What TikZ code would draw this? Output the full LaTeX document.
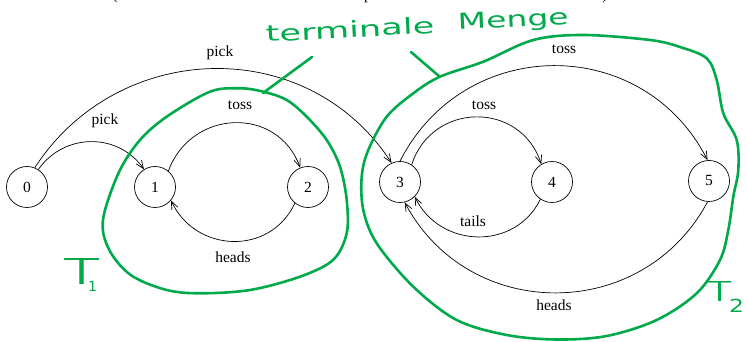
\documentclass[tikz,border=0pt]{standalone}
\usepackage{fontspec}
\usepackage{graphicx}
\setmainfont{Liberation Serif}
\newfontfamily\handfont{DejaVu Sans}
\IfFontExistsTF{Fira Sans Light}{\newfontfamily\thinfont{Fira Sans Light}}{\newfontfamily\thinfont{DejaVu Sans}}
\usetikzlibrary{arrows.meta}
\definecolor{pen}{RGB}{0,170,75}
\begin{document}
\begin{tikzpicture}[x=1pt,y=1pt,
  state/.style={draw, circle, minimum size=41pt, inner sep=0pt, line width=0.7pt, font=\fontsize{15.5}{18}\selectfont},
  lab/.style={font=\fontsize{15.5}{18}\selectfont, inner sep=0pt},
  conn/.style={draw, line width=0.7pt, -{Straight Barb[length=8pt,width=6.5pt]}},
  ink/.style={draw=pen, line width=2.6pt, line cap=round, line join=round},
  hand/.style={text=pen, inner sep=0pt, anchor=base west}]
\useasboundingbox (0,0) rectangle (747,342);
\clip (0,0) rectangle (747,342);

% cut-off text line at the top
\node[lab, anchor=base] (cutA) at (115,342.5) {(};
\node[lab, anchor=base] (cutB) at (368,342.5) {p};
\node[lab, anchor=base] (cutC) at (605,342.5) {)};

% states
\node[state] (n0) at (27,155) {0};
\node[state] (n1) at (155,155) {1};
\node[state] (n2) at (308,155) {2};
\node[state] (n3) at (400,160) {3};
\node[state] (n4) at (552,160) {4};
\node[state] (n5) at (709,161) {5};

% transitions
\draw[conn] (n0.57) to[out=55,in=125,looseness=1.09] (n1.122);
\draw[conn] (n0.68) to[out=57,in=123,looseness=1.1] (n3.114);
\draw[conn] (n1.50) to[out=70,in=110,looseness=1.28] (n2.112);
\draw[conn] (n2.231) to[out=-115,in=-65,looseness=1.2] (n1.-40);
\draw[conn] (n3.56) to[out=72,in=108,looseness=1.31] (n4.121);
\draw[conn] (n4.236) to[out=-116,in=-64,looseness=1.17] (n3.-45);
\draw[conn] (n3.90) to[out=63,in=117,looseness=1.18] (n5.94);
\draw[conn] (n5.-94) to[out=-118,in=-62,looseness=1.16] (n3.-77);

% labels
\node[lab] (lpick1) at (105,221) {pick};
\node[lab] (lpick2) at (220,289) {pick};
\node[lab] (ltoss1) at (240,237) {toss};
\node[lab] (lheads1) at (233,85) {heads};
\node[lab] (ltoss2) at (484,237) {toss};
\node[lab] (ltails) at (473,121) {tails};
\node[lab] (ltoss3) at (564,293) {toss};
\node[lab] (lheads2) at (554,37) {heads};

% handwritten annotations
\draw[ink] plot[smooth cycle, tension=0.55] coordinates {
  (240,253.7) (210,250.3) (166.7,225.3) (140,202) (120,172) (105,132)
  (103.3,108.7) (113.3,85.3) (133.3,65.3) (166.7,52) (200,48.7) (250,52)
  (300,65.3) (333,82) (346.7,108.7) (346.7,142) (340,175.3) (326.7,202)
  (306.7,225.3) (286.7,242) (263.3,250.3)};
\draw[ink] plot[smooth cycle, tension=0.55] coordinates {
  (440,265.3) (483.3,280.3) (533.3,302) (583.3,307) (650,302) (680,295)
  (706.7,283.7) (716.7,262) (723.3,228.7) (736.7,202) (738.3,172)
  (733.3,145.3) (728.3,112) (720,82) (696.7,48.7) (656.7,22) (606.7,6)
  (556.7,2.5) (506.7,7) (456.7,22) (413.3,55.3) (376.7,98.7) (363.3,132)
  (361.7,165.3) (368.3,192) (386.7,225.3) (413.3,248.7)};

\node[hand, rotate=3] (tm1) at (266,300) {\scalebox{1.6}[1]{\handfont\fontsize{22}{22}\selectfont terminale}};
\node[hand, rotate=3] (tm2) at (458,312) {\scalebox{1.5}[1]{\handfont\fontsize{22}{22}\selectfont Menge}};
\coordinate (p1a) at (312,285);
\coordinate (p1b) at (263,249);
\coordinate (p2a) at (411,290);
\coordinate (p2b) at (440,265);
\draw[ink] (p1a) -- (p1b);
\draw[ink] (p2a) -- (p2b);

\node[hand] (T1) at (63,57) {\resizebox{37pt}{26pt}{\thinfont T}\kern-12pt\raisebox{-7pt}{\handfont\fontsize{14}{14}\selectfont 1}};
\node[hand] (T2) at (707,40) {\resizebox{25pt}{20pt}{\thinfont T}\kern-3pt\raisebox{-11pt}{\scalebox{1.3}[1]{\handfont\fontsize{18}{18}\selectfont 2}}};
\end{tikzpicture}
\end{document}
